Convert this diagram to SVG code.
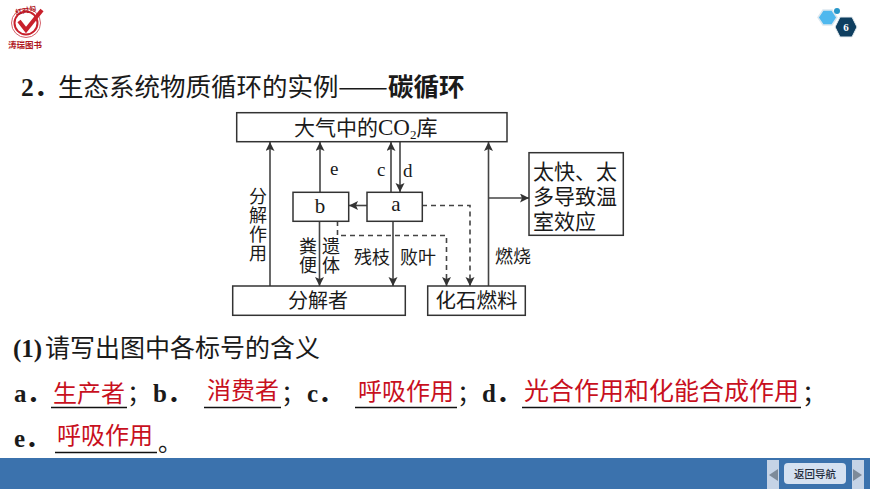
<svg xmlns="http://www.w3.org/2000/svg" width="870" height="489" viewBox="0 0 870 489">
<style>
text{font-family:"Noto Sans CJK SC","Liberation Sans",sans-serif;fill:#1a1a1a}
.lat{font-family:"Liberation Serif","Noto Sans CJK SC",serif}
.b{font-weight:700}
.t25{font-size:25px}
.d{font-size:20px}
.ans{font-size:24px;fill:#c8101e}
.box{fill:#fff;stroke:#333;stroke-width:1.5}
.c{fill:none;stroke:#444;stroke-width:1.6}
.dash{stroke-dasharray:5 4}
.ul{stroke:#111;stroke-width:1.5}
.v{writing-mode:vertical-rl;font-size:18px;letter-spacing:1px}
</style>
<defs>
<marker id="ah" markerUnits="userSpaceOnUse" markerWidth="10" markerHeight="10" refX="9" refY="4.500" orient="auto"><path d="M0 0L9 4.500L0 9L2 4.500Z" fill="#333"/></marker>
</defs>
<rect width="870" height="489" fill="#fff"/>
<g id="logo">
<circle cx="26" cy="23" r="14.500" fill="none" stroke="#d4606a" stroke-width="1"/>
<circle cx="26" cy="23" r="11.500" fill="none" stroke="#c8202c" stroke-width="2"/>
<path d="M19 21L26 30L42 10" fill="none" stroke="#c8202c" stroke-width="4"/>
<text x="16" y="15" font-size="7" font-weight="700" transform="rotate(-12 16 15)" style="fill:#b01824">红对勾</text>
<text x="8" y="48" font-size="8.500" font-weight="700" style="fill:#b01824">涛瑞图书</text>
</g>
<g id="page-badge">
<path d="M818 17.500L823 10H832L837 17.500L832 25H823Z" fill="#4fb8ee" stroke="#dbe7ef" stroke-width="1.500"/>
<circle cx="837" cy="11" r="3" fill="#2796c8"/>
<path d="M835 27L840 17H852L857 27L852 37H840Z" fill="#0f3f60" stroke="#e8eef2" stroke-width="1"/>
<text x="846" y="31" font-size="11" font-weight="700" text-anchor="middle" class="lat" style="fill:#fff">6</text>
</g>
<text id="title" x="21" y="96" style="font-size:25.500px"><tspan class="lat b">2</tspan><tspan class="b">．</tspan><tspan x="58">生态系统物质循环的实例</tspan><tspan x="338" textLength="50" lengthAdjust="spacingAndGlyphs">——</tspan><tspan x="388" class="b">碳循环</tspan></text>
<g id="connectors">
<path class="c" marker-end="url(#ah)" d="M270 286V142"/>
<path class="c" marker-end="url(#ah)" d="M320 192V142"/>
<path class="c" marker-end="url(#ah)" d="M391 192V142"/>
<path class="c" marker-end="url(#ah)" d="M400 142V192"/>
<path class="c" marker-end="url(#ah)" d="M488.500 286V142"/>
<path class="c" marker-end="url(#ah)" d="M488.500 198H529"/>
<path class="c" marker-end="url(#ah)" d="M367 205.500H349"/>
<path class="c" marker-end="url(#ah)" d="M319.500 221V286"/>
<path class="c" marker-end="url(#ah)" d="M393 221V286"/>
<path class="c dash" marker-end="url(#ah)" d="M422 205.500H470V286"/>
<path class="c dash" marker-end="url(#ah)" d="M337.500 221V235.500H446.500V286"/>
</g>
<g id="node-atmosphere"><rect class="box" x="236.700" y="112.700" width="270.300" height="29"/>
<text x="294" y="135" style="font-size:21px">大气中的<tspan class="lat" style="font-size:23px">CO</tspan><tspan class="lat" dy="4" style="font-size:13px">2</tspan><tspan dy="-4">库</tspan></text></g>
<g id="node-b"><rect class="box" x="293" y="192.300" width="55.700" height="29"/><text x="320" y="213" text-anchor="middle" class="lat" font-size="21">b</text></g>
<g id="node-a"><rect class="box" x="367" y="192.300" width="55.300" height="29"/><text x="396" y="211" text-anchor="middle" class="lat" font-size="21">a</text></g>
<g id="node-decomposer"><rect class="box" x="232.700" y="286" width="172.600" height="29.300"/><text x="318" y="308" text-anchor="middle" class="d">分解者</text></g>
<g id="node-fossil"><rect class="box" x="427.700" y="286" width="97.600" height="29.300"/><text x="476.500" y="308" text-anchor="middle" style="font-size:20.500px">化石燃料</text></g>
<g id="node-effect"><rect class="box" x="529" y="152.700" width="94.300" height="82.600"/>
<text class="lat" x="533" y="179" style="font-size:21px">太快、太</text><text class="lat" x="533" y="204" style="font-size:21px">多导致温</text><text class="lat" x="533" y="229" style="font-size:21px">室效应</text></g>
<g id="labels" font-size="18">
<text x="258" y="187" class="v">分解作用</text>
<text x="330" y="175" class="lat" font-size="19">e</text><text x="377" y="176" class="lat" font-size="19">c</text><text x="403" y="177" class="lat" font-size="19">d</text>
<text x="308" y="237" class="v">粪便</text>
<text x="331" y="237" class="v">遗体</text>
<text x="354" y="264">残枝</text><text x="400" y="264">败叶</text><text x="495" y="263">燃烧</text>
</g>
<g id="question">
<text x="13" y="357" class="t25"><tspan class="lat b">(1)</tspan><tspan x="45">请写出图中各标号的含义</tspan></text>
<g font-size="25">
<text x="14" y="402" class="lat b">a．</text><text x="153" y="402" class="lat b">b．</text><text x="307" y="402" class="lat b">c．</text><text x="482" y="402" class="lat b">d．</text><text x="14" y="447" class="lat b">e．</text>
</g>
<text x="127" y="402" font-size="24">；</text><text x="281" y="402" font-size="24">；</text><text x="457" y="402" font-size="24">；</text><text x="802" y="402" font-size="24">；</text><text x="158" y="451" font-size="24">。</text>
<path class="ul" d="M51 407.500H127M204 407.500H281M355 407.500H457M522 407.500H801M55 452.500H157"/>
<text x="53" y="402" class="ans">生产者</text><text x="207" y="399" class="ans">消费者</text><text x="358" y="400" class="ans">呼吸作用</text>
<text x="524" y="400" class="ans" style="font-size:25px">光合作用和化能合成作用</text><text x="57" y="444" class="ans">呼吸作用</text>
</g>
<g id="footer">
<rect y="458" width="870" height="31" fill="#3b72ad"/>
<rect x="767" y="460" width="12" height="29" fill="#c5d3e6"/>
<rect x="852" y="460" width="12" height="29" fill="#c5d3e6"/>
<path d="M769 475L778 469V481Z" fill="#7d8a99"/><path d="M862 475L853 469V481Z" fill="#7d8a99"/>
<rect x="784" y="463" width="62" height="21" rx="4" fill="#d5e1f1"/>
<text x="815" y="478" font-size="10.500" text-anchor="middle" font-weight="500" style="fill:#1f2a3a">返回导航</text>
</g>
</svg>
